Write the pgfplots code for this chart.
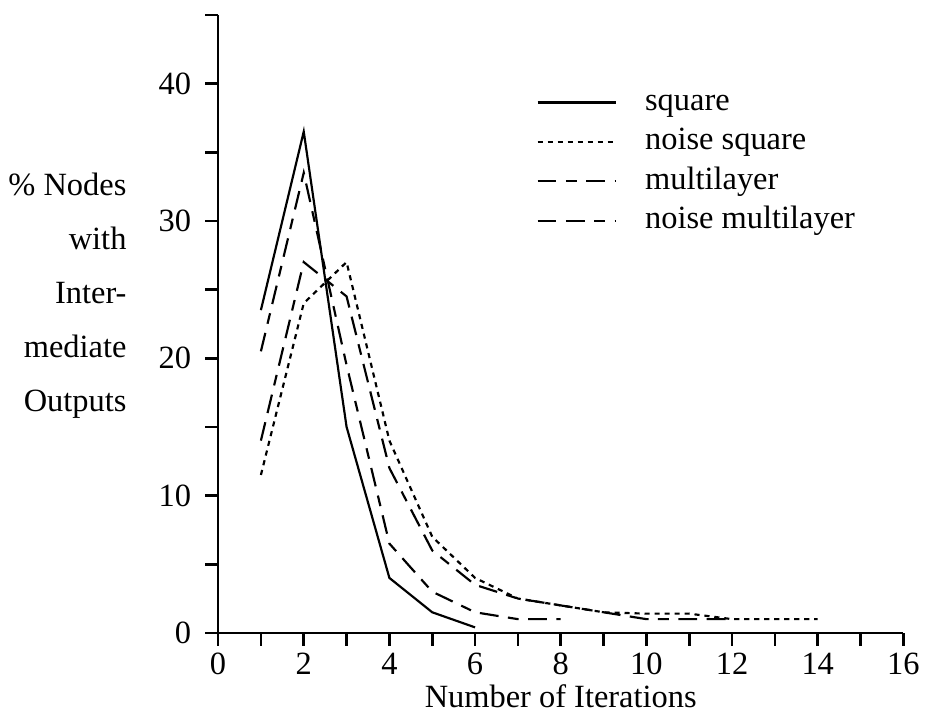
\documentclass[12pt,border=0pt]{standalone}
\usepackage{fontspec}
\setmainfont{Liberation Serif}
\usepackage{pgfplots}
\pgfplotsset{compat=1.18}
\begin{document}
\begin{tikzpicture}
\useasboundingbox (-80.7pt,-33.3pt) rectangle (261.6pt,234.2pt);
\begin{axis}[
  at={(0,0)}, anchor=south west,
  scale only axis, width=253.6pt, height=228.7pt,
  xmin=0, xmax=16, ymin=0, ymax=45,
  axis lines=left,
  axis line style={-, line width=1pt},
  xtick={0,2,...,16}, minor xtick={1,3,...,15},
  ytick={0,10,...,40}, minor ytick={5,15,25,35,45},
  tick align=outside,
  major tick length=4.8pt, minor tick length=4.8pt,
  tick style={line width=1pt, black},
  /pgf/number format/assume math mode=true,
  yticklabel shift=1pt,
  xticklabel shift=-1.5pt,
  every axis x label/.style={at={(rel axis cs:0.5,0)}, anchor=base, yshift=-27.5pt},
  every axis y label/.style={at={(rel axis cs:0,0.545)}, anchor=east, align=right, inner sep=0pt, xshift=-33.7pt, font=\fontsize{12}{20}\selectfont},
  xlabel={Number of Iterations},
  ylabel={\% Nodes\\with\\Inter-\\mediate\\Outputs},
  every axis plot/.append style={line width=0.8pt, black},
  legend cell align=left,
  legend style={draw=none, fill=none, at={(rel axis cs:0.452,0.892)}, anchor=north west,
    row sep=3.6pt, column sep=10.4pt,
    nodes={inner sep=0pt, text height=8.5pt, text depth=2.5pt}},
  legend image code/.code={\draw[#1] (0pt,0pt) -- (29pt,0pt);},
]
\addplot[solid] coordinates {(1,23.5)(2,36.5)(3,15)(4,4)(5,1.5)(6,0.4)};
\addlegendentry{square}
\addplot[dash pattern=on 1.9pt off 1.8pt] coordinates {(1,11.5)(2,24)(3,27)(4,14)(5,7)(6,4)(7,2.5)(8,2)(9,1.5)(10,1.4)(11,1.4)(12,1)(13,1)(14,1)};
\addlegendentry{noise square}
\addplot[dash pattern=on 7pt off 3.5pt on 4pt off 3.5pt] coordinates {(1,20.5)(2,33.5)(3,19.5)(4,6.5)(5,3)(6,1.5)(7,1)(8,1)};
\addlegendentry{multilayer}
\addplot[dash pattern=on 7pt off 3.5pt on 7pt off 3.5pt on 4pt off 3.5pt] coordinates {(1,14)(2,27)(3,24.5)(4,12)(5,6)(6,3.5)(7,2.5)(8,2)(9,1.5)(10,1)(11,1)(12,1)};
\addlegendentry{noise multilayer}
\end{axis}
\end{tikzpicture}
\end{document}
